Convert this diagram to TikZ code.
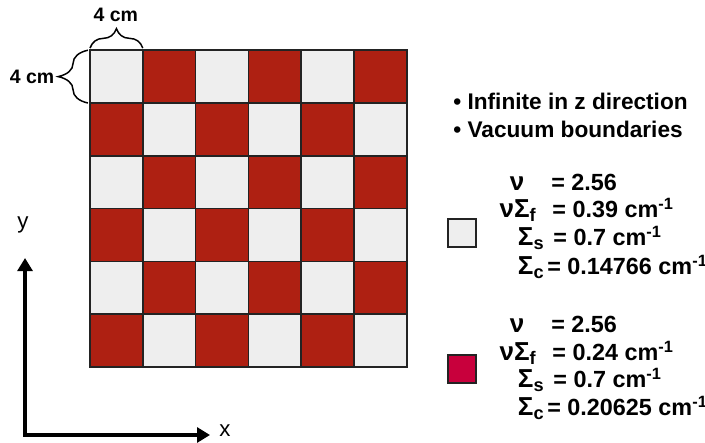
\documentclass[tikz,border=0pt]{standalone}
\usepackage{fontspec}
\setmainfont{Liberation Sans}
\usepackage{xcolor}
\usepackage{tikz}
\usetikzlibrary{arrows.meta,positioning,calc,decorations.pathreplacing}
\definecolor{cellred}{RGB}{174, 32, 18}
\definecolor{cellgray}{RGB}{238, 238, 238}
\definecolor{legendred}{RGB}{200, 0, 60}
\definecolor{gridline}{RGB}{35, 35, 35}

\begin{document}
\begin{tikzpicture}[
    cell/.style={draw=gridline, line width=0.8pt},
    brace/.style={decorate, line width=0.8pt},
    axis/.style={line width=1.8pt, {Triangle[length=7pt,width=8pt]}-{Triangle[length=7pt,width=8pt]}},
    dimlabel/.style={font=\fontsize{10.5}{12}\selectfont\bfseries},
    bullet/.style={font=\fontsize{12.2}{14}\selectfont\bfseries, anchor=mid west, inner sep=0pt},
    sym/.style={font=\fontsize{14}{16}\selectfont\bfseries, inner sep=0pt},
    val/.style={font=\fontsize{12.6}{14}\selectfont\bfseries, anchor=mid west, inner sep=0pt},
    legendbox/.style={draw=gridline, line width=0.8pt, minimum size=0.53cm, inner sep=0pt}
]
        \useasboundingbox (-1.705, -1.439) rectangle (11.648, 6.951);

        % Checkerboard
        \foreach \i in {0,...,5}
            \foreach \j in {0,...,5} {
                \pgfmathtruncatemacro{\cellodd}{mod(\i+\j,2)}
                \ifnum\cellodd=1 \def\cellcol{cellgray}\else \def\cellcol{cellred}\fi
                \draw[cell, fill=\cellcol] (\i, \j) rectangle ++(1, 1);
            }

        % Cell size braces
        \draw[brace, decoration={brace, amplitude=10.5pt}] (0, 6.04) -- (1, 6.04);
        \node[dimlabel] (toplabel) at (0.49, 6.667) {4 cm};
        \draw[brace, decoration={brace, amplitude=16pt}] (-0.04, 5) -- (-0.04, 6);
        \node[dimlabel] (leftlabel) at (-1.098, 5.492) {4 cm};

        % Axes
        \coordinate (origin) at (-1.231, -1.288);
        \coordinate (ytip) at (-1.231, 2.064);
        \coordinate (xtip) at (2.273, -1.288);
        \draw[axis] (ytip) -- (origin) -- (xtip);
        \node[font=\fontsize{12}{14}\selectfont] (ylabel) at (-1.269, 2.689) {y};
        \node[font=\fontsize{12}{14}\selectfont] (xlabel) at (2.557, -1.212) {x};

        % Problem notes
        \node[bullet] (infinite) at (6.875, 4.962) {• Infinite in z direction};
        \node[bullet] (vacuum) at (6.875, 4.432) {• Vacuum boundaries};

        % Gray material
        \node[legendbox, fill=cellgray] (graybox) at (7.045, 2.538) {};
        \node[sym, anchor=mid] (nuA) at (8.087, 3.428) {ν};
        \node[sym, anchor=mid east] (nusigfA) at (8.466, 2.917) {νΣ\textsubscript{f}};
        \node[sym, anchor=mid east] (sigsA) at (8.617, 2.386) {Σ\textsubscript{s}};
        \node[sym, anchor=mid east] (sigcA) at (8.617, 1.837) {Σ\textsubscript{c}};
        \node[val] (valnuA) at (8.731, 3.428) {= 2.56};
        \node[val] (valnusigfA) at (8.750, 2.917) {= 0.39 cm\textsuperscript{-1}};
        \node[val] (valsigsA) at (8.769, 2.386) {= 0.7 cm\textsuperscript{-1}};
        \node[val] (valsigcA) at (8.655, 1.837) {= 0.14766 cm\textsuperscript{-1}};

        % Red material
        \node[legendbox, fill=legendred] (redbox) at (7.045, -0.038) {};
        \node[sym, anchor=mid] (nuB) at (8.087, 0.739) {ν};
        \node[sym, anchor=mid east] (nusigfB) at (8.466, 0.208) {νΣ\textsubscript{f}};
        \node[sym, anchor=mid east] (sigsB) at (8.617, -0.303) {Σ\textsubscript{s}};
        \node[sym, anchor=mid east] (sigcB) at (8.617, -0.833) {Σ\textsubscript{c}};
        \node[val] (valnuB) at (8.731, 0.739) {= 2.56};
        \node[val] (valnusigfB) at (8.750, 0.208) {= 0.24 cm\textsuperscript{-1}};
        \node[val] (valsigsB) at (8.769, -0.303) {= 0.7 cm\textsuperscript{-1}};
        \node[val] (valsigcB) at (8.655, -0.833) {= 0.20625 cm\textsuperscript{-1}};
\end{tikzpicture}
\end{document}
